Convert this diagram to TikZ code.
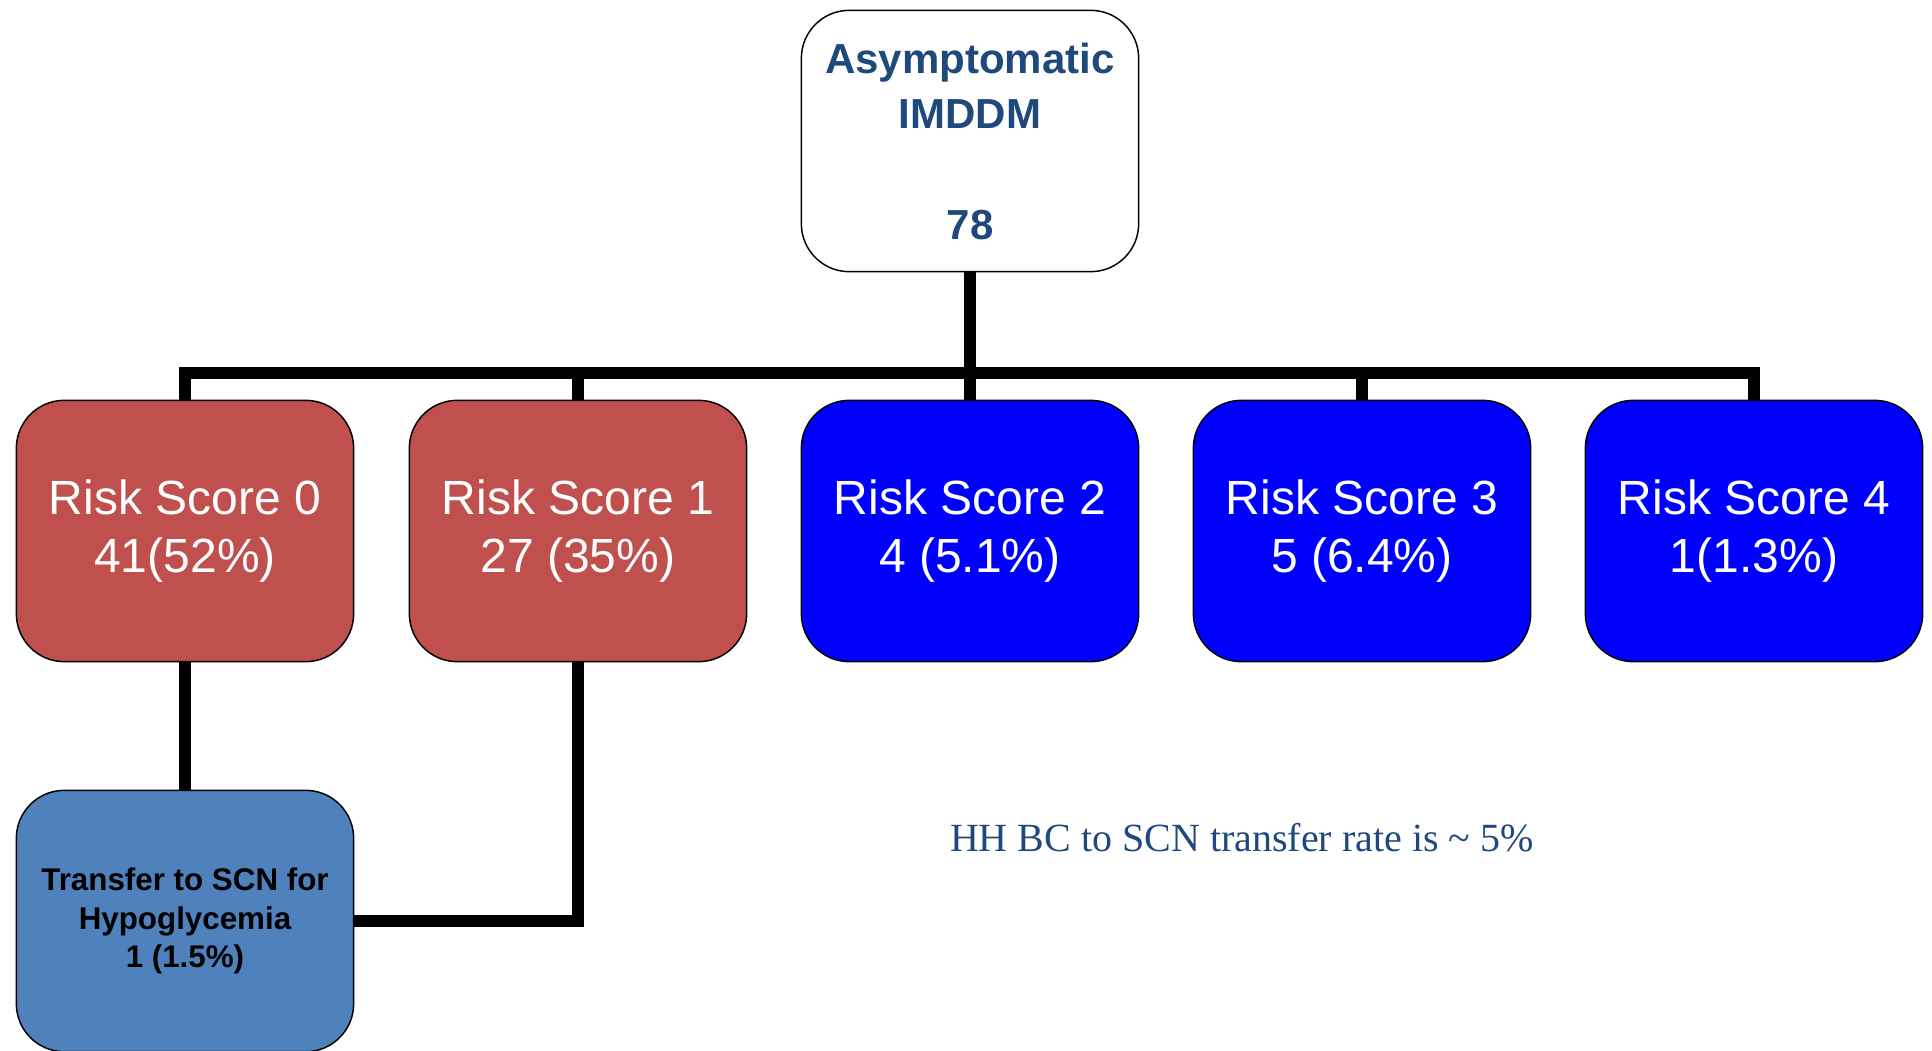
\documentclass[tikz,border=0pt]{standalone}
\usepackage{fontspec}
\setmainfont{Liberation Sans}
\newfontfamily\notefont{Liberation Serif}
\definecolor{riskred}{HTML}{C0504D}
\definecolor{riskblue}{HTML}{0000FF}
\definecolor{steel}{HTML}{4F81BD}
\definecolor{navy}{HTML}{1F497D}
\begin{document}
\begin{tikzpicture}[x=0.75pt,y=-0.75pt,
  box/.style={draw=black,line width=1.1pt,rounded corners=36pt,
    minimum width=253pt,minimum height=196pt,align=center,inner sep=0pt},
  risk/.style={box,text=white,font=\fontsize{36}{44}\selectfont},
  conn/.style={line width=8.5pt}]
\useasboundingbox (0,0) rectangle (1932,1050);

   \node[box,text=navy,font=\bfseries\fontsize{31.5}{41.5}\selectfont] at (970,141) (top)
      {Asymptomatic\\IMDDM\\\mbox{}\\78};

   \node[risk,fill=riskred]  at (185,531)  (R0) {Risk Score 0\\41(52\%)};
   \node[risk,fill=riskred]  at (578,531)  (R1) {Risk Score 1\\27 (35\%)};
   \node[risk,fill=riskblue] at (970,531)  (R2) {Risk Score 2\\4 (5.1\%)};
   \node[risk,fill=riskblue] at (1362,531) (R3) {Risk Score 3\\5 (6.4\%)};
   \node[risk,fill=riskblue] at (1754,531) (R4) {Risk Score 4\\1(1.3\%)};

   \node[box,fill=steel,font=\bfseries\fontsize{23.5}{29}\selectfont] at (185,921) (T)
      {Transfer to SCN for\\Hypoglycemia\\1 (1.5\%)};

   \node[text=navy,font=\notefont\fontsize{30}{36}\selectfont] at (1242,838) (note)
      {HH BC to SCN transfer rate is \textasciitilde{} 5\%};

   \coordinate (bus) at (970,373);

    \draw[conn] (top.south) -- (R2.north);
    \draw[conn] (R0.north) |- (bus) -| (R4.north);
    \draw[conn] (R1.north) |- (bus);
    \draw[conn] (R3.north) |- (bus);

    \draw[conn] (R0.south) -- (T.north);
    \draw[conn] (R1.south) |- (T.east);

\end{tikzpicture}
\end{document}
